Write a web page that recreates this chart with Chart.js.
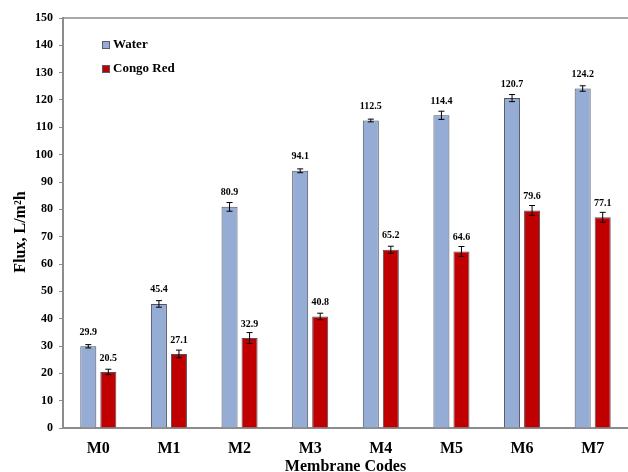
<!DOCTYPE html>
<html>
<head>
<meta charset="utf-8">
<script src="https://cdn.jsdelivr.net/npm/chart.js@4.4.1/dist/chart.umd.min.js"></script>
<style>
  html, body { margin: 0; padding: 0; background: #fff; }
  canvas { display: block; }
</style>
</head>
<body>
<canvas id="chart" width="628" height="472"></canvas>
<script>
// data
const codes = ["M0", "M1", "M2", "M3", "M4", "M5", "M6", "M7"];
const waterFlux = [29.9, 45.4, 80.9, 94.1, 112.5, 114.4, 120.7, 124.2];
const congoFlux = [20.5, 27.1, 32.9, 40.8, 65.2, 64.6, 79.6, 77.1];
const waterErr = [0.6, 1.2, 1.6, 0.7, 0.5, 1.5, 1.3, 1.0];
const congoErr = [1.0, 1.4, 2.0, 1.2, 1.3, 1.8, 1.8, 1.8];
const yTicks = [0, 10, 20, 30, 40, 50, 60, 70, 80, 90, 100, 110, 120, 130, 140, 150];

const serif = "'Liberation Serif', 'Times New Roman', serif";
const axisGray = "#8c8c8c";

// error bars, value labels, legend, top frame line, y title
const extras = {
  id: "extras",
  afterDatasetsDraw(chart) {
    const ctx = chart.ctx;
    const y = chart.scales.y;
    const area = chart.chartArea;
    const errs = [waterErr, congoErr];

    ctx.save();
    chart.data.datasets.forEach((ds, di) => {
      const meta = chart.getDatasetMeta(di);
      meta.data.forEach((bar, i) => {
        const v = ds.data[i];
        const e = errs[di][i];
        const yHi = y.getPixelForValue(v + e);
        const yLo = y.getPixelForValue(v - e);
        ctx.strokeStyle = "#000";
        ctx.lineWidth = 1;
        ctx.beginPath();
        ctx.moveTo(bar.x, yHi);
        ctx.lineTo(bar.x, yLo);
        ctx.moveTo(bar.x - 3, yHi);
        ctx.lineTo(bar.x + 3, yHi);
        ctx.moveTo(bar.x - 3, yLo);
        ctx.lineTo(bar.x + 3, yLo);
        ctx.stroke();

        ctx.fillStyle = "#000";
        ctx.font = "bold 10px " + serif;
        ctx.textAlign = "center";
        ctx.textBaseline = "middle";
        ctx.fillText(v.toFixed(1), bar.x, y.getPixelForValue(v) - 14);
      });
    });

    // top frame line
    ctx.strokeStyle = axisGray;
    ctx.lineWidth = 1.5;
    ctx.beginPath();
    ctx.moveTo(area.left, area.top);
    ctx.lineTo(chart.width, area.top);
    ctx.stroke();

    // legend
    const items = [
      { label: "Water", color: "#95acd4", y: 45 },
      { label: "Congo Red", color: "#c00000", y: 69 }
    ];
    items.forEach(it => {
      ctx.fillStyle = it.color;
      ctx.fillRect(102, it.y - 4, 7, 7);
      ctx.strokeStyle = "#5a5a6a";
      ctx.lineWidth = 1;
      ctx.strokeRect(102.5, it.y - 3.5, 7, 7);
      ctx.fillStyle = "#000";
      ctx.font = "bold 13px " + serif;
      ctx.textAlign = "left";
      ctx.textBaseline = "middle";
      ctx.fillText(it.label, 113, it.y);
    });

    // y axis title
    ctx.translate(21, 232);
    ctx.rotate(-Math.PI / 2);
    ctx.font = "bold 16px " + serif;
    ctx.textAlign = "center";
    ctx.textBaseline = "middle";
    ctx.fillStyle = "#000";
    ctx.fillText("Flux, L/m\u00b2h", 0, 0);
    ctx.restore();
  }
};

new Chart(document.getElementById("chart"), {
  type: "bar",
  data: {
    labels: codes,
    datasets: [
      {
        label: "Water",
        data: waterFlux,
        backgroundColor: "#95acd4",
        borderColor: "#4f5060",
        borderWidth: 1
      },
      {
        label: "Congo Red",
        data: congoFlux,
        backgroundColor: "#c00000",
        borderColor: "#4f5060",
        borderWidth: 1
      }
    ]
  },
  options: {
    responsive: false,
    animation: false,
    layout: { padding: { top: 18, left: 0, right: 0, bottom: 0 } },
    categoryPercentage: 0.567,
    barPercentage: 0.8,
    plugins: {
      legend: { display: false },
      tooltip: { enabled: false }
    },
    scales: {
      x: {
        grid: { drawOnChartArea: false, drawTicks: false },
        border: { color: axisGray, width: 2 },
        ticks: {
          color: "#000",
          padding: 11,
          font: { family: serif, size: 16, weight: "bold" }
        },
        title: {
          display: true,
          text: "Membrane Codes",
          color: "#000",
          padding: { top: 0, bottom: -4 },
          font: { family: serif, size: 16, weight: "bold" }
        },
        afterFit(scale) { scale.height = 44; }
      },
      y: {
        min: 0,
        max: 150,
        afterBuildTicks(scale) { scale.ticks = yTicks.map(v => ({ value: v })); },
        grid: { drawOnChartArea: false, drawTicks: true, tickLength: 4, color: axisGray },
        border: { color: axisGray, width: 2 },
        ticks: {
          color: "#000",
          padding: 6,
          font: { family: serif, size: 12, weight: "bold" }
        },
        afterFit(scale) { scale.width = 63; }
      }
    }
  },
  plugins: [extras]
});
</script>
</body>
</html>
